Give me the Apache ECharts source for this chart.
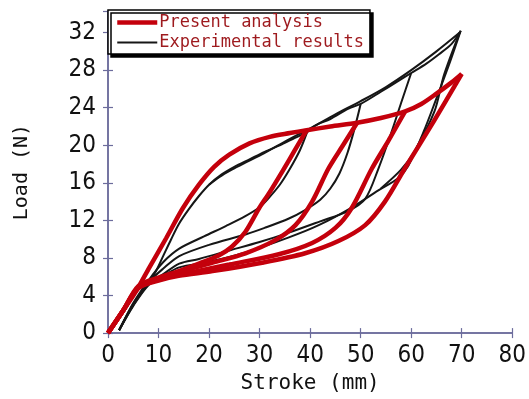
<!DOCTYPE html>
<html>
<head>
<meta charset="utf-8">
<script src="https://cdn.jsdelivr.net/npm/echarts@6/dist/echarts.min.js"></script>
<style>
  html, body { margin: 0; padding: 0; background: #fff; }
  #chart { width: 529px; height: 399px; }
</style>
</head>
<body>
<div id="chart"></div>
<script>
// [stroke mm, load N]

// present analysis (red): loading envelope + 4 unloading branches
const redLoading = [[0,0],[1,0.8],[3,2.4],[5.6,4.5],[8.2,7],[11.5,10.1],[14.8,13.3],[18,15.8],[21,17.7],[24,19],[28,20.2],[32,20.9],[36,21.3],[39.3,21.6],[44,22],[49.3,22.4],[54,22.9],[58.8,23.6],[62,24.4],[65,25.5],[68,26.7],[70,27.6]];
const redUnload1 = [[39.3,21.6],[37,19.5],[34.6,17.3],[32,15],[29.9,13.3],[27.2,10.8],[24.5,9.2],[22,8.3],[18,7.4],[14,6.6],[10,5.9],[6,5],[3,2.4],[0,0]];
const redUnload2 = [[49.3,22.4],[46.5,20],[43.6,17.5],[40.4,14],[37.1,11.5],[33.1,9.9],[27.2,8.5],[20.7,7.5],[14,6.5],[10,5.8],[6,4.9],[3,2.4],[0,0]];
const redUnload3 = [[58.8,23.6],[55.5,20.5],[52.2,17.5],[48.2,13.3],[45,11.2],[40.4,9.6],[33.8,8.4],[24,7.3],[14,6.2],[10,5.7],[6,4.8],[3,2.4],[0,0]];
const redUnload4 = [[70,27.6],[64.4,22.5],[58.7,17.5],[54.8,14],[50.9,11.5],[45.6,9.8],[39,8.5],[30.5,7.5],[20.7,6.6],[14,6.1],[10,5.6],[6,4.8],[3,2.4],[0,0]];

// experimental results (black), several repeated traces
const expLoading = [[2.2,0.3],[3.5,1.6],[5,3],[6.5,4.2],[8,5.3],[9.5,6.6],[11,8.3],[12.5,10],[14,11.6],[16,13.2],[18,14.6],[20,15.8],[22.5,16.9],[25,17.7],[28,18.5],[31,19.3],[34.4,20.1],[37,20.8],[39.4,21.4],[41,22.1],[44,22.8],[47.6,23.9],[50,24.4],[54,25.7],[57,26.7],[60,27.7],[63,28.7],[65.5,29.7],[68,30.8],[69.8,32.2]];
const expLoading2 = [[20,15.8],[22,16.6],[24.5,17.4],[27,18.1],[30,18.9],[35,20.4],[40,21.8],[45,23.3],[50,24.7],[55,26.2],[60,28],[65,30],[69.6,32]];
const expUnload1 = [[39.4,21.4],[38,19.5],[36,17.5],[34,15.8],[31.5,14.2],[30,13.4],[27,12.4],[23.3,11.4],[19,10.3],[14.1,9],[11,7.6],[8,5.6],[5,3.2],[2.2,0.3]];
const expUnload2 = [[50,24.4],[48.8,21.8],[47.4,19.2],[45.8,17],[44,15.4],[42,14.2],[39,13.1],[35.8,12.2],[31,11.2],[27.2,10.5],[20,9.4],[14.1,8.2],[11,6.9],[8,5.4],[5,3.1],[2.2,0.3]];
const expUnload3 = [[60,27.7],[58,24.5],[56.1,21.4],[53.5,17.5],[50.9,14.3],[47.5,13],[42,11.9],[35.8,10.7],[30,9.7],[24,8.8],[18,7.9],[14.1,7.4],[11,6.3],[8,5.2],[5,3],[2.2,0.3]];
const expUnload4 = [[69.8,32.2],[67.5,28.6],[65,25],[62.5,21.5],[59.4,17.8],[57.4,16.5],[53.5,15.2],[48.3,13.4],[41.7,11.5],[35.8,10.2],[27.2,8.6],[20,7.6],[14.1,7],[11,6.1],[8,5.1],[5,2.9],[2.2,0.3]];
const expUnload4b = [[69.6,32],[66.5,27.5],[64.6,23.6],[60.7,19.4],[58,17.4],[54,15.4]];

const redCurves = [redLoading, redUnload1, redUnload2, redUnload3, redUnload4];
const blackCurves = [expLoading, expLoading2, expUnload1, expUnload2, expUnload3, expUnload4, expUnload4b];

const legendNames = ['Present analysis', 'Experimental results'];

const chart = echarts.init(document.getElementById('chart'));

const axisColor = '#6c6c9c';
const redColor = '#c4000c';
const blackColor = '#161616';
const tickFont = '"DejaVu Sans", sans-serif';
const monoFont = '"DejaVu Sans Mono", "Liberation Mono", monospace';

function frameAxis(extra) {
  return Object.assign({
    type: 'value',
    axisLine: { show: true, lineStyle: { color: axisColor, width: 1.5 } },
    axisTick: { show: true, inside: true, length: 5, lineStyle: { color: axisColor, width: 1.2 } },
    splitLine: { show: false },
    axisLabel: { show: false }
  }, extra);
}

const series = [];
blackCurves.forEach(pts => series.push({
  name: legendNames[1],
  type: 'line',
  data: pts,
  symbol: 'none',
  smooth: 0.3,
  itemStyle: { color: blackColor },
  lineStyle: { color: blackColor, width: 2 },
  z: 2
}));
redCurves.forEach(pts => series.push({
  name: legendNames[0],
  type: 'line',
  data: pts,
  symbol: 'none',
  smooth: 0.3,
  itemStyle: { color: redColor },
  lineStyle: { color: redColor, width: 4.5 },
  z: 3
}));

chart.setOption({
  animation: false,
  backgroundColor: '#fff',
  grid: { left: 108, right: 14, top: 11, bottom: 63 },
  legend: {
    data: [
      { name: legendNames[0], lineStyle: { width: 4.5 } },
      { name: legendNames[1], lineStyle: { width: 2.2 } }
    ],
    orient: 'vertical',
    left: 108,
    top: 10,
    padding: [4, 6, 3, 7],
    itemGap: 3,
    itemWidth: 40,
    itemHeight: 21,
    selectedMode: false,
    backgroundColor: '#fff',
    borderColor: '#000',
    borderWidth: 1.5,
    borderRadius: 0,
    shadowColor: '#000',
    shadowBlur: 0,
    shadowOffsetX: 3,
    shadowOffsetY: 3,
    itemStyle: { opacity: 0 },
    textStyle: { color: '#9e1a1e', fontFamily: monoFont, fontSize: 17, padding: [0, 0, 0, -3] }
  },
  xAxis: [
    frameAxis({
      min: 0, max: 80, interval: 10,
      name: 'Stroke (mm)',
      nameLocation: 'middle',
      nameGap: 36,
      nameTextStyle: { color: '#111', fontFamily: monoFont, fontSize: 21 },
      axisLabel: { show: true, color: '#111', fontFamily: tickFont, fontStyle: 'condensed', fontSize: 24, margin: 11 }
    }),
    frameAxis({ min: 0, max: 80, interval: 10, position: 'top' })
  ],
  yAxis: [
    frameAxis({
      min: 0, max: 34.3, interval: 4,
      name: 'Load (N)',
      nameLocation: 'middle',
      nameGap: 76,
      nameTextStyle: { color: '#111', fontFamily: monoFont, fontSize: 20 },
      axisLabel: {
        show: true, color: '#111', fontFamily: tickFont, fontStyle: 'condensed', fontSize: 24, margin: 12,
        formatter: v => (v % 4 === 0 && v <= 32) ? String(v) : ''
      }
    }),
    frameAxis({ min: 0, max: 34.3, interval: 4, position: 'right' })
  ],
  series: series
});
</script>
</body>
</html>
